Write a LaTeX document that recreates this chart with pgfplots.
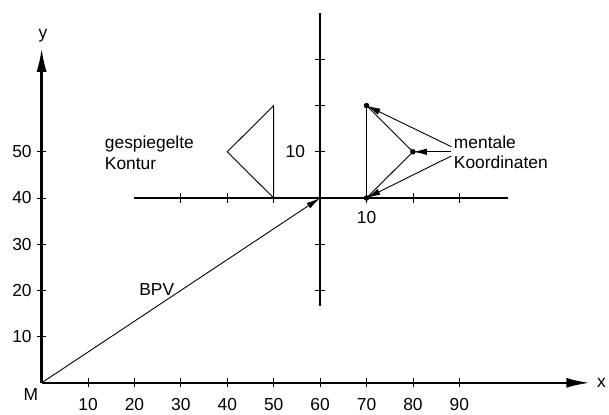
\documentclass[border=0pt]{standalone}
\usepackage{pgfplots}
\pgfplotsset{compat=1.18}
\usetikzlibrary{arrows.meta}
\usepackage{fontspec}
\setmainfont{Liberation Sans}

\begin{document}
\begin{tikzpicture}
\begin{axis}[
  scale only axis,
  width=550.2bp, height=336bp,
  xmin=0, xmax=118.2, ymin=0, ymax=72.5,
  enlargelimits=false,
  clip=false,
  axis lines=left,
  axis line style={line width=2.5bp, -{Latex[length=24bp,width=10bp]}},
  xtick={10,20,...,90}, ytick={10,20,...,50},
  tick align=center,
  major tick length=9bp,
  tick style={line width=0.8bp, black},
  ticklabel style={font=\fontsize{17.5}{20}\selectfont},
  /pgf/number format/assume math mode=true,
  xticklabel style={yshift=-8bp},
  yticklabel style={xshift=-2bp},
  font=\fontsize{17.5}{20.5}\selectfont,
]
% keep the page the size of the reference
\path (axis cs:-8.97,-6.9) rectangle (axis cs:121.9,82.85);

% local coordinate system
\addplot[line width=2.5bp] coordinates {(20,40) (100.4,40)};
\addplot[line width=2.5bp] coordinates {(60,16.6) (60,80.1)};
\addplot[only marks, mark=|, mark size=5bp, mark options={line width=0.8bp}]
  coordinates {(30,40) (40,40) (50,40) (70,40) (80,40) (90,40)};
\addplot[only marks, mark=-, mark size=5bp, mark options={line width=0.8bp}]
  coordinates {(60,20) (60,30) (60,50) (60,60) (60,70)};

% mirrored contour
\addplot[line width=0.9bp] coordinates {(50,40) (50,60) (40,50) (50,40)};

% mental coordinates
\addplot[line width=0.9bp] coordinates {(70,40) (70,60) (80,50) (70,40)};
\addplot[only marks, mark=*, mark size=2.5bp] coordinates {(70,60) (80,50) (70,40)};
\addplot[line width=0.9bp, -{Latex[length=14bp,width=6.5bp]}] coordinates {(88.3,51.1) (70,60)};
\addplot[line width=0.9bp, -{Latex[length=14bp,width=6.5bp]}] coordinates {(88.3,50) (80,50)};
\addplot[line width=0.9bp, -{Latex[length=14bp,width=6.5bp]}] coordinates {(88.3,49.1) (70,40)};

% BPV
\addplot[line width=0.9bp, -{Latex[length=14bp,width=6.5bp]}] coordinates {(0,0) (60,40)};

\node at (axis cs:0.3,75.1) {y};
\node at (axis cs:120.6,0) {x};
\node at (axis cs:-2.3,-2.5) {M};
\node at (axis cs:24.8,20.3) {BPV};
\node[align=left, anchor=west, inner sep=0] at (axis cs:13.6,49.8) {gespiegelte\\Kontur};
\node[align=left, anchor=west, inner sep=0] at (axis cs:88.8,49.9) {mentale\\Koordinaten};
\node[anchor=east, inner sep=0] at (axis cs:56.8,50) {10};
\node at (axis cs:70,35.8) {10};
\end{axis}
\end{tikzpicture}
\end{document}
